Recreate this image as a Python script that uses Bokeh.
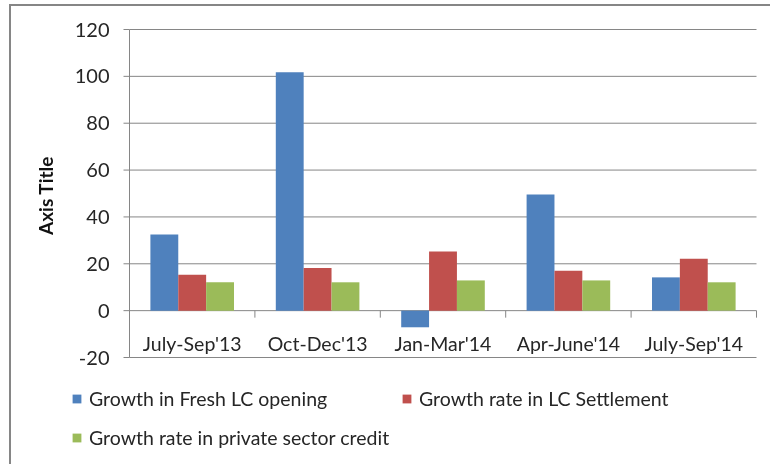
import math
from bokeh.plotting import figure
from bokeh.models import ColumnDataSource, Range1d, Legend, LegendItem
from bokeh.transform import dodge
from bokeh.core.properties import value
from bokeh.embed import file_html
from bokeh.resources import INLINE

# ---- data ----
categories = ["July-Sep'13", "Oct-Dec'13", "Jan-Mar'14", "Apr-June'14", "July-Sep'14"]
fresh_lc_opening = [32.5, 101.7, -7.1, 49.6, 14.2]
lc_settlement = [15.3, 18.2, 25.2, 17.0, 22.1]
private_credit = [12.1, 12.1, 12.9, 12.9, 12.1]
y_ticks = [-20, 0, 20, 40, 60, 80, 100, 120]
series_names = ["Growth in Fresh LC opening",
                "Growth rate in LC Settlement",
                "Growth rate in private sector credit"]
colors = ["#4F81BD", "#C0504D", "#9BBB59"]
axis_title = "Axis Title"

# ---- layout (canvas pixels) ----
FONT = "Lato"
TEXT = "#262626"
GRID = "#868686"
W, H = 759, 458                 # canvas
PL, PR, PT, PB = 118, 745, 23, 351   # plot area edges inside canvas

n = len(categories)
y_lo, y_hi = min(y_ticks), max(y_ticks)
ux = (PR - PL) / n
uy = (PB - PT) / (y_hi - y_lo)
x_range = Range1d(-PL / ux, (W - PL) / ux)
y_range = Range1d(y_lo - (H - PB) / uy, y_hi + PT / uy)

centers = [i + 0.5 for i in range(n)]
source = ColumnDataSource(dict(x=centers, cat=categories, s0=fresh_lc_opening,
                               s1=lc_settlement, s2=private_credit))

p = figure(x_range=x_range, y_range=y_range,
           frame_width=W, frame_height=H, min_border=0,
           x_axis_location=None, y_axis_location=None,
           output_backend="svg", toolbar_location=None,
           background_fill_color="white", border_fill_color="white")
p.styles = {"position": "fixed", "left": "9px", "top": "4px",
            "border-left": "2px solid #868686", "border-top": "2px solid #868686"}
p.outline_line_color = None
p.grid.visible = False

# gridlines and y axis
p.segment(x0=[0] * len(y_ticks), y0=y_ticks, x1=[n] * len(y_ticks), y1=y_ticks,
          line_color=GRID, line_width=1)
p.segment(x0=[0], y0=[y_lo], x1=[0], y1=[y_hi], line_color=GRID, line_width=1)
p.segment(x0=[-6 / ux] * len(y_ticks), y0=y_ticks, x1=[0] * len(y_ticks), y1=y_ticks,
          line_color=GRID, line_width=1)
p.text(x=[0] * len(y_ticks), y=y_ticks, text=[str(t) for t in y_ticks],
       x_offset=-20, text_align="right", text_baseline="middle",
       text_font=value(FONT), text_font_size="20px", text_color=TEXT)
p.text(x=[0], y=[(y_lo + y_hi) / 2], text=[axis_title], angle=math.pi / 2,
       x_offset=-84, y_offset=2, text_align="center", text_baseline="middle",
       text_font=value(FONT), text_font_size="19px", text_font_style="bold",
       text_color="#111111")

# bars
bw = 1 / 4.5
offsets = [-bw, 0, bw]
renderers = []
for i, (key, col) in enumerate(zip(["s0", "s1", "s2"], colors)):
    r = p.vbar(x=dodge("x", offsets[i]), top=key, bottom=0,
               width=bw, source=source, fill_color=col, line_color=None)
    renderers.append(r)

# horizontal (category) axis at y = 0: boundary tick marks + labels
bounds = list(range(n + 1))
p.segment(x0=bounds, y0=[0] * len(bounds), x1=bounds, y1=[-7 / uy] * len(bounds),
          line_color=GRID, line_width=1)
p.text(x="x", y=0, text="cat", source=source, y_offset=33,
       text_align="center", text_baseline="middle",
       text_font=value(FONT), text_font_size="19.5px", text_color=TEXT)

# legends
def make_legend(items, loc):
    return Legend(items=items, location=loc, orientation="vertical",
                  padding=0, margin=0, spacing=15,
                  glyph_width=11, glyph_height=11, label_standoff=7,
                  label_height=24, border_line_color=None,
                  background_fill_alpha=0,
                  label_text_font=FONT, label_text_font_size="19.5px",
                  label_text_color=TEXT)

leg_a = make_legend([LegendItem(label=series_names[0], renderers=[renderers[0]]),
                     LegendItem(label=series_names[2], renderers=[renderers[2]])],
                    (60, 15))
leg_b = make_legend([LegendItem(label=series_names[1], renderers=[renderers[1]])],
                    (390, 54))
p.add_layout(leg_a)
p.add_layout(leg_b)

open("out.html", "w").write(file_html(p, INLINE))
